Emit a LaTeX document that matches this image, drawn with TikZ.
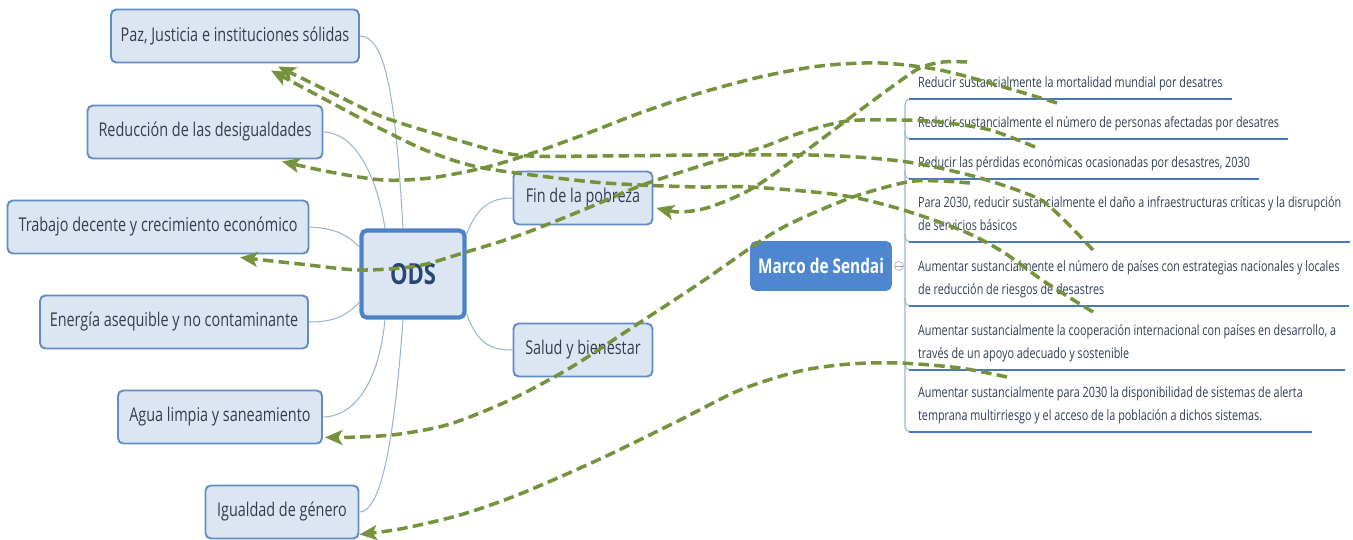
\documentclass[tikz,border=0pt]{standalone}
\usepackage{fontspec}
\setmainfont{Open Sans}[FakeStretch=0.76]
\usetikzlibrary{arrows.meta}
\definecolor{boxfill}{RGB}{220,230,242}
\definecolor{boxline}{RGB}{98,140,198}
\definecolor{boxtext}{RGB}{50,62,82}
\definecolor{odstext}{RGB}{40,70,115}
\definecolor{odsline}{RGB}{78,130,200}
\definecolor{sendaiblue}{RGB}{78,134,208}
\definecolor{underblue}{RGB}{72,120,190}
\definecolor{linkgray}{RGB}{158,180,203}
\definecolor{relgreen}{RGB}{118,146,60}
\tikzset{
  basebox/.style={
    rectangle, rounded corners=3pt, draw=boxline, line width=1.1pt, fill=boxfill,
    text=boxtext, align=center, font=\fontsize{10.8}{13}\selectfont, minimum height=1.06cm
  },
  odsbox/.style={basebox, draw=odsline, line width=2.4pt, text=odstext,
    font=\fontsize{16.5}{18}\selectfont\bfseries, minimum width=2.06cm, minimum height=1.74cm},
  sendaibox/.style={rectangle, rounded corners=3pt, fill=sendaiblue, draw=sendaiblue, text=white,
    font=\fontsize{11.5}{13}\selectfont\bfseries, minimum width=2.82cm, minimum height=0.98cm},
  metatext/.style={anchor=south west, align=left, text=boxtext, inner xsep=5pt, inner ysep=4.5pt,
    text depth=2pt, font=\fontsize{8.1}{13}\selectfont},
  underbar/.style={draw=underblue, line width=1.7pt},
  bracket/.style={draw=linkgray, line width=0.6pt, rounded corners=3pt},
  linkline/.style={draw=linkgray, line width=0.6pt},
  foldmark/.style={circle, draw=black!30, line width=0.4pt, minimum size=0.18cm, inner sep=0pt,
    path picture={\draw[black!35, line width=0.4pt] (path picture bounding box.west) -- (path picture bounding box.east);}},
  relarrow/.style={-{Stealth[length=10pt,width=8.5pt,inset=2.5pt]}, draw=relgreen, line width=2pt,
    dash pattern=on 6pt off 3pt}
}
\begin{document}
\begin{tikzpicture}[x=0.02cm, y=-0.02cm]
  \useasboundingbox (0,0) rectangle (1353,540);

  \node[basebox, minimum width=4.96cm] (paz)      at (235,36)  {Paz, Justicia e instituciones sólidas};
  \node[basebox, minimum width=4.70cm] (reduc)    at (205,132) {Reducción de las desigualdades};
  \node[basebox, minimum width=6.02cm] (trabajo)  at (158,227) {Trabajo decente y crecimiento económico};
  \node[basebox, minimum width=5.36cm] (energia)  at (174,322) {Energía asequible y no contaminante};
  \node[basebox, minimum width=4.08cm] (agua)     at (220,417) {Agua limpia y saneamiento};
  \node[basebox, minimum width=3.06cm] (igualdad) at (282,512) {Igualdad de género};
  \node[odsbox] (ods) at (413,274) {ODS};
  \node[basebox, minimum width=2.78cm] (fin)   at (583,198) {Fin de la pobreza};
  \node[basebox, minimum width=2.78cm] (salud) at (583,350) {Salud y bienestar};

  \draw[linkline] ([shift={(-10,0)}]ods.north) .. controls (395,90) and (385,37) .. (paz.east);
  \draw[linkline] ([shift={(-28,0)}]ods.north) .. controls (375,165) and (350,132) .. (reduc.east);
  \draw[linkline] ([shift={(0,-27)}]ods.west) .. controls (345,232) and (330,228) .. (trabajo.east);
  \draw[linkline] ([shift={(0,28)}]ods.west) .. controls (345,318) and (330,322) .. (energia.east);
  \draw[linkline] ([shift={(-28,0)}]ods.south) .. controls (378,390) and (350,417) .. (agua.east);
  \draw[linkline] ([shift={(-10,0)}]ods.south) .. controls (393,460) and (378,512) .. (igualdad.east);
  \draw[linkline] ([shift={(0,-40)}]ods.east) .. controls (478,205) and (492,198) .. (fin.west);
  \draw[linkline] ([shift={(0,40)}]ods.east) .. controls (478,345) and (492,350) .. (salud.west);

  \node[sendaibox] (sendai) at (821,266) {Marco de Sendai};
  \node[foldmark] (fold) at (899,266) {};

  \node[metatext] (m1) at (909,99)  {Reducir sustancialmente la mortalidad mundial por desatres};
  \node[metatext] (m2) at (909,139) {Reducir sustancialmente el número de personas afectadas por desatres};
  \node[metatext] (m3) at (909,179) {Reducir las pérdidas económicas ocasionadas por desastres, 2030};
  \node[metatext] (m4) at (909,242) {Para 2030, reducir sustancialmente el daño a infraestructuras críticas y la disrupción\\de servicios básicos};
  \node[metatext] (m5) at (909,306) {Aumentar sustancialmente el número de países con estrategias nacionales y locales\\de reducción de riesgos de desastres};
  \node[metatext] (m6) at (909,370) {Aumentar sustancialmente la cooperación internacional con países en desarrollo, a\\través de un apoyo adecuado y sostenible};
  \node[metatext] (m7) at (909,432) {Aumentar sustancialmente para 2030 la disponibilidad de sistemas de alerta\\temprana multirriesgo y el acceso de la población a dichos sistemas.};

  \draw[bracket] (m1.south west) -| ([shift={(-4,0)}]m7.south west) -- (m7.south west);
  \draw[bracket] ([shift={(-4,-8)}]m2.south west) |- (m2.south west);
  \draw[bracket] ([shift={(-4,-8)}]m3.south west) |- (m3.south west);
  \draw[bracket] ([shift={(-4,-8)}]m4.south west) |- (m4.south west);
  \draw[bracket] ([shift={(-4,-8)}]m5.south west) |- (m5.south west);
  \draw[bracket] ([shift={(-4,-8)}]m6.south west) |- (m6.south west);
  \draw[underbar] (m1.south west) -- (m1.south east);
  \draw[underbar] (m2.south west) -- (m2.south east);
  \draw[underbar] (m3.south west) -- (m3.south east);
  \draw[underbar] (m4.south west) -- (m4.south east);
  \draw[underbar] (m5.south west) -- (m5.south east);
  \draw[underbar] (m6.south west) -- (m6.south east);
  \draw[underbar] (m7.south west) -- (m7.south east);

  \coordinate (s1) at (1057,103);
  \coordinate (s2) at (967,62);
  \coordinate (s3) at (1035,147);
  \coordinate (s4) at (1093,250);
  \coordinate (s5) at (1093,312);
  \coordinate (s6) at (970,183);
  \coordinate (s7) at (1007,377);
  \coordinate (e1) at ([shift={(77,2)}]reduc.south);
  \coordinate (e2) at ([shift={(3,10)}]fin.east);
  \coordinate (e3) at ([shift={(82,3)}]trabajo.south);
  \coordinate (e4) at ([shift={(43,3)}]paz.south);
  \coordinate (e5) at ([shift={(36,7)}]paz.south);
  \coordinate (e6) at ([shift={(2,-7)}]agua.south east);
  \coordinate (e7) at ([shift={(0,-5)}]igualdad.south east);

  \draw[relarrow] plot[smooth] coordinates {(s1) (1000,86) (940,70) (880,63) (820,66) (760,77) (700,93)
    (640,113) (583,135) (527,155) (483,168) (430,178) (383,180) (330,172) (e1)};
  \draw[relarrow] plot[smooth] coordinates {(s2) (943,62) (920,68) (893,86) (847,120) (807,150) (753,188)
    (710,207) (680,212) (e2)};
  \draw[relarrow] plot[smooth] coordinates {(s3) (990,130) (940,122) (900,120) (847,121) (800,133) (760,148)
    (700,166) (640,186) (583,210) (520,235) (463,253) (417,266) (360,270) (300,264) (e3)};
  \draw[relarrow] plot[smooth] coordinates {(s4) (1062,218) (1037,198) (980,178) (920,164) (870,158) (810,155)
    (700,155) (600,156) (517,155) (450,138) (383,117) (330,92) (e4)};
  \draw[relarrow] plot[smooth] coordinates {(s5) (1045,282) (1003,252) (963,231) (900,209) (840,195) (750,187)
    (700,187) (640,185) (583,181) (483,168) (430,152) (383,130) (330,102) (e5)};
  \draw[relarrow] plot[smooth] coordinates {(s6) (940,181) (907,182) (853,197) (800,219) (765,238) (700,283)
    (633,327) (570,368) (510,400) (450,424) (400,434) (360,437) (e6)};
  \draw[relarrow] plot[smooth] coordinates {(s7) (960,368) (900,363) (850,364) (800,371) (740,390) (680,420)
    (600,459) (520,494) (460,515) (400,529) (e7)};
\end{tikzpicture}
\end{document}
